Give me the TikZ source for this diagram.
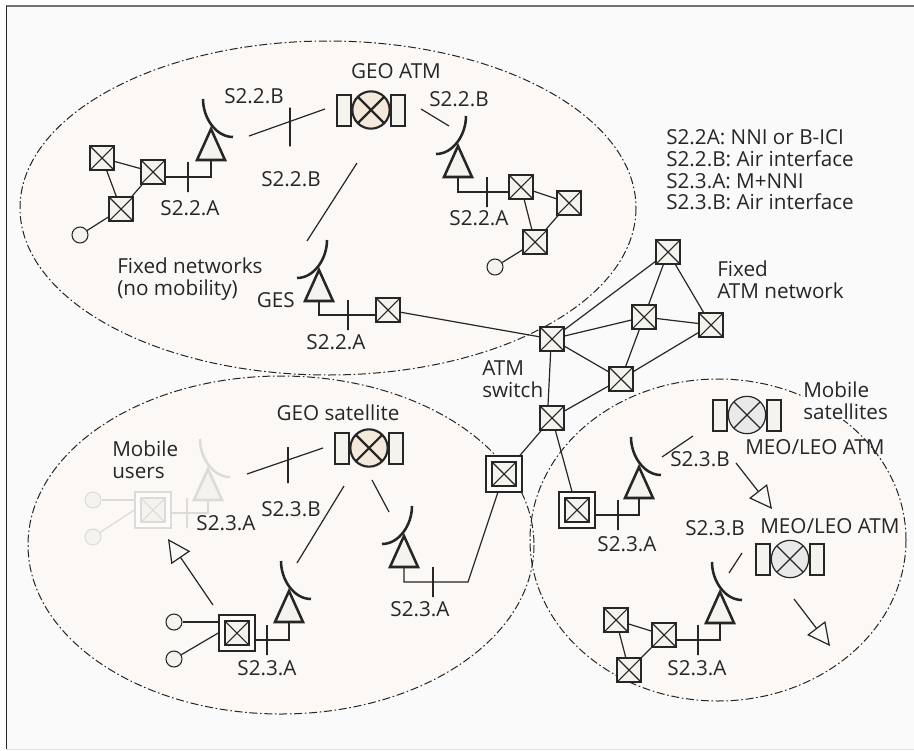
\documentclass[tikz,border=0pt]{standalone}
\usepackage{fontspec}
\setmainfont{Open Sans}
\usetikzlibrary{arrows.meta}
\definecolor{linecol}{HTML}{262626}
\definecolor{ghostcol}{HTML}{DDDBD7}
\definecolor{pagecol}{HTML}{FAFAFA}
\definecolor{zonecol}{HTML}{FBF8F5}
\definecolor{boxcol}{HTML}{F5F3EE}
\definecolor{geocol}{HTML}{F5E9DC}
\definecolor{meocol}{HTML}{E9E9E9}
\tikzset{
  lab/.style={font=\fontsize{15.5}{16.3}\selectfont, inner sep=0pt, align=left},
  zone/.style={fill=zonecol},
  zoneline/.style={line width=0.75pt, dash pattern=on 6pt off 2pt on 1.2pt off 2pt},
  link/.style={line width=0.9pt},
  tick/.style={rectangle, draw, line width=0.8pt, minimum width=0pt, minimum height=22.5pt, inner sep=0pt, outer sep=0pt},
  xbox/.style={rectangle, draw, fill=boxcol, line width=1.1pt, minimum size=18pt, inner sep=0pt,
    path picture={\draw[line width=0.8pt] (path picture bounding box.north west) -- (path picture bounding box.south east)
      (path picture bounding box.north east) -- (path picture bounding box.south west);}},
  dblbox/.style={rectangle, draw, fill=white!60!zonecol, line width=1.1pt, minimum size=27pt, inner sep=0pt,
    path picture={\draw[shift={(path picture bounding box.center)}, fill=boxcol, line width=1.1pt] (-12,-12) rectangle (12,12);
      \draw[shift={(path picture bounding box.center)}, line width=0.8pt] (-12,-12) -- (12,12) (-12,12) -- (12,-12);}},
  enduser/.style={circle, draw, fill=boxcol, line width=0.8pt, minimum size=12pt, inner sep=0pt},
  arrowline/.style={line width=0.9pt, -{Triangle[open, length=17pt, width=17pt]}},
  geolook/.style={line width=1.6pt, fill=geocol},
  meolook/.style={line width=0.9pt, fill=meocol},
  antenna/.pic={
    \draw[fill=boxcol, line width=1.9pt, miter limit=4] (0,3) -- (-14,34) -- (14,34) -- cycle;
    \draw[line width=1.9pt] (-8,-27) .. controls (-8,-8) and (5,11) .. (22,11);
    \coordinate (-base) at (0,34);
  },
  satellite/.pic={
    \node[circle, draw, #1, minimum size=28pt, inner sep=0pt,
      path picture={\draw (path picture bounding box.north west) -- (path picture bounding box.south east)
        (path picture bounding box.north east) -- (path picture bounding box.south west);}] (-disc) at (0,0) {};
    \draw[#1, fill=boxcol] (-34,-15) rectangle (-20,16);
    \draw[#1, fill=boxcol] (20,-15) rectangle (34,16);
  }
}
\begin{document}
\begin{tikzpicture}[x=0.75pt, y=-0.75pt, color=linecol]
  \useasboundingbox (0,0) rectangle (914,750);
  % Page and zones
  \fill[pagecol] (6.5,6) rectangle (914,749);
  \draw[line width=1.4pt, black!55] (6,6) -- (914,6);
  \draw[line width=1pt] (6.5,6) -- (6.5,749);
  \draw[line width=0.75pt, black!12] (6.5,749.5) -- (914,749.5);
  \path[zone] (328,208) ellipse (308 and 167);
  \path[zone] (281,545) ellipse (253 and 169);
  \path[zone] (718,540) ellipse (188 and 161);
  \draw[zoneline] (328,208) ellipse (308 and 167);
  \draw[zoneline] (281,545) ellipse (253 and 169);
  \draw[zoneline] (718,540) ellipse (188 and 161);
  % Fixed ATM network
  \node[xbox] (fa) at (552,339) {};
  \node[xbox] (fb) at (668,252) {};
  \node[xbox] (fc) at (644,317) {};
  \node[xbox] (fd) at (711,325) {};
  \node[xbox] (fe) at (621,379) {};
  \node[xbox] (ff) at (552,418) {};
  \node[dblbox] (gw) at (504,474) {};
  \node[dblbox] (gm) at (577,510) {};
  \draw[link] (fa) -- (fb);
  \draw[link] (fa) -- (fc);
  \draw[link] (fa) -- (fe);
  \draw[link] ([xshift=-1pt]fa.south) -- ([xshift=-3pt]ff.north);
  \draw[link] (fb) -- (fc);
  \draw[link] (fb) -- (fd);
  \draw[link] (fc) -- (fd);
  \draw[link] (fc) -- (fe);
  \draw[link] (fd) -- (fe);
  \draw[link] (fe) -- (ff);
  \draw[link] (ff) -- (gw);
  \draw[link] (ff) -- (gm);
  % Fixed networks, left part
  \node[xbox] (tla) at (102,158) {};
  \node[xbox] (tlb) at (153,172) {};
  \node[xbox] (tlc) at (121,209) {};
  \node[enduser] (tlu) at (80,235) {};
  \pic (anttl) at (211,126) {antenna};
  \node[tick] (ticktl) at (188,177) {};
  \draw[link] (tla) -- (tlb);
  \draw[link] (tla) -- (tlc);
  \draw[link] (tlb) -- (tlc);
  \draw[link] (tlc) -- (tlu);
  \draw[link] (tlb.east |- ticktl) -| (anttl-base);
  % Fixed networks, right part
  \node[xbox] (tra) at (521,187) {};
  \node[xbox] (trb) at (569,203) {};
  \node[xbox] (trc) at (535,242) {};
  \node[enduser] (tru) at (495,267) {};
  \pic[xscale=-1] (anttr) at (458,143) {antenna};
  \node[tick] (ticktr) at (487,192) {};
  \draw[link] (tra) -- (trb);
  \draw[link] (tra) -- (trc);
  \draw[link] (trb) -- (trc);
  \draw[link] (trc) -- (tru);
  \draw[link] (anttr-base) |- (tra.west |- ticktr);
  % GES
  \node[xbox] (gesbox) at (388,310) {};
  \pic[xscale=-1] (antges) at (319,267) {antenna};
  \node[tick] (tickges) at (348,315) {};
  \draw[link] (antges-base) |- (gesbox.west |- tickges);
  \draw[link] (gesbox) -- (fa);
  % GEO ATM
  \pic (geoatm) at (371,110) {satellite=geolook};
  \coordinate (la) at (249,136);
  \coordinate (lb) at (325,109);
  \coordinate (lc) at (421,109);
  \coordinate (ld) at (449,126);
  \coordinate (le) at (357,163);
  \coordinate (lf) at (307,241);
  \draw[link] (la) -- (lb);
  \draw[link] (lc) -- (ld);
  \draw[link] (le) -- (lf);
  \node[tick, minimum height=29pt] (tickair) at (290,127) {};
  % GEO satellite
  \pic (geosat) at (369,448) {satellite=geolook};
  \coordinate (ma) at (247,474);
  \coordinate (mb) at (323,448);
  \coordinate (mc) at (344,486);
  \coordinate (md) at (297,563);
  \coordinate (me) at (372,480);
  \coordinate (mf) at (389,512);
  \draw[link] (ma) -- (mb);
  \draw[link] (mc) -- (md);
  \draw[link] (me) -- (mf);
  \node[tick, minimum height=27pt] (tickmob) at (288,465) {};
  % Mobile users, faded position
  \begin{scope}[color=ghostcol]
    \node[dblbox] (ghostbox) at (153,510) {};
    \node[enduser] (ghostua) at (93,500) {};
    \node[enduser] (ghostub) at (93,537) {};
    \pic (antghost) at (208,466) {antenna};
    \node[tick] (tickghost) at (187,513) {};
    \draw[link] (ghostua) -- (ghostua -| ghostbox.west);
    \draw[link] (ghostub) -- (ghostbox.west);
    \draw[link] (ghostbox.east |- tickghost) -| (antghost-base);
  \end{scope}
  % Mobile users
  \node[dblbox] (mobbox) at (237,633) {};
  \node[enduser] (mobua) at (174,622) {};
  \node[enduser] (mobub) at (174,659) {};
  \pic (antmob) at (289,588) {antenna};
  \node[tick] (tickuser) at (267,640) {};
  \draw[link] (mobua) -- (mobua -| mobbox.west);
  \draw[link] (mobub) -- (mobbox.west);
  \draw[link] (mobbox.east |- tickuser) -| (antmob-base);
  \coordinate (mova) at (213,605);
  \coordinate (movb) at (168,539);
  \draw[arrowline] (mova) -- (movb);
  % GES of the GEO satellite
  \pic[xscale=-1] (antgeo) at (404,533) {antenna};
  \node[tick] (tickgeo) at (433,582) {};
  \coordinate (bend) at (468,582);
  \draw[link] (antgeo-base) |- (bend) -- (gw);
  % Mobile satellites
  \pic (meoa) at (747,415) {satellite=meolook};
  \pic (meob) at (790,559) {satellite=meolook};
  \pic (antmeoa) at (639,464) {antenna};
  \node[tick] (tickmeoa) at (618,515) {};
  \draw[link] (gm.east |- tickmeoa) -| (antmeoa-base);
  \pic (antmeob) at (720,589) {antenna};
  \node[tick] (tickmeob) at (698,640) {};
  \node[xbox] (bra) at (616,620) {};
  \node[xbox] (brb) at (664,635) {};
  \node[xbox] (brc) at (629,670) {};
  \draw[link] (bra) -- (brb);
  \draw[link] (bra) -- (brc);
  \draw[link] (brb) -- (brc);
  \draw[link] (brb.east |- tickmeob) -| (antmeob-base);
  \coordinate (na) at (693,436);
  \coordinate (nb) at (662,457);
  \coordinate (nc) at (742,553);
  \coordinate (nd) at (729,573);
  \draw[link] (na) -- (nb);
  \draw[link] (nc) -- (nd);
  \coordinate (pa) at (736,463);
  \coordinate (pb) at (772,509);
  \coordinate (pc) at (794,599);
  \coordinate (pd) at (830,646);
  \draw[arrowline] (pa) -- (pb);
  \draw[arrowline] (pc) -- (pd);
  % Labels
  \node[lab] (lgeoatm) at (396,71) {GEO ATM};
  \node[lab] (l1) at (254,96) {S2.2.B};
  \node[lab] (l2) at (291,179) {S2.2.B};
  \node[lab] (l3) at (459,99) {S2.2.B};
  \node[lab] (l4) at (190,208) {S2.2.A};
  \node[lab] (l5) at (479,218) {S2.2.A};
  \node[lab] (l6) at (336,342) {S2.2.A};
  \node[lab, anchor=east] (lges) at (295,300) {GES};
  \node[lab, anchor=west] (lfixed) at (117,279) {Fixed networks\\(no mobility)};
  \node[lab, anchor=west] (llegend) at (666,170) {S2.2A: NNI or B-ICI\\S2.2.B: Air interface\\S2.3.A: M+NNI\\S2.3.B: Air interface};
  \node[lab, anchor=west] (lfixatm) at (717,280) {Fixed\\ATM network};
  \node[lab, anchor=west] (lswitch) at (482,379) {ATM\\switch};
  \node[lab] (lgeosat) at (338,413) {GEO satellite};
  \node[lab, anchor=west] (lmob) at (112,460) {Mobile\\users};
  \node[lab] (l7) at (226,523) {S2.3.A};
  \node[lab] (l8) at (291,509) {S2.3.B};
  \node[lab] (l9) at (267,668) {S2.3.A};
  \node[lab] (l10) at (420,609) {S2.3.A};
  \node[lab] (l11) at (627,544) {S2.3.A};
  \node[lab] (l12) at (700,459) {S2.3.B};
  \node[lab] (l13) at (715,528) {S2.3.B};
  \node[lab] (l14) at (697,668) {S2.3.A};
  \node[lab, anchor=west] (lmeoa) at (745,447) {MEO/LEO ATM};
  \node[lab, anchor=west] (lmeob) at (760,526) {MEO/LEO ATM};
  \node[lab, anchor=west, fill=pagecol] (lsats) at (803,401) {Mobile\\satellites};
\end{tikzpicture}
\end{document}
